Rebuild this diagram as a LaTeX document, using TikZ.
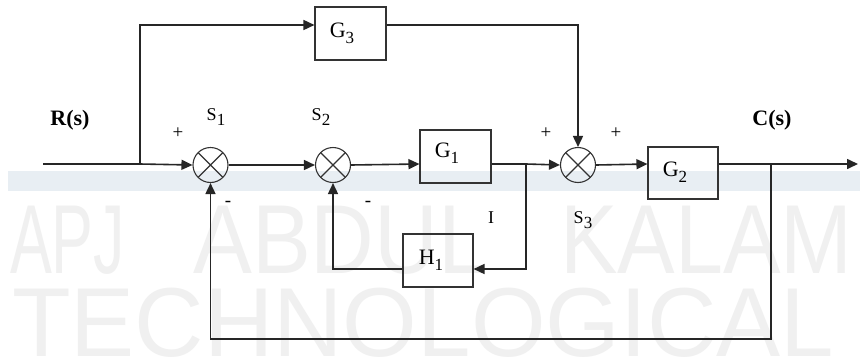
\documentclass[tikz,border=0pt]{standalone}
\usepackage{fontspec}
\setmainfont{Liberation Serif}
\newfontfamily\wmfont{Liberation Sans}
\usetikzlibrary{arrows.meta,calc}
\definecolor{wmgray}{RGB}{240,240,240}
\definecolor{bandblue}{RGB}{232,238,243}
\tikzset{
  x=1pt,y=1pt,
  line/.style={draw=black!85,line width=1.6pt},
  arr/.style={line,-{Triangle[length=11pt,width=10pt]}},
  blockbox/.style={draw=black!80,line width=1.1pt,minimum width=71pt,minimum height=53pt,inner sep=0pt},
  sumcirc/.style={circle,draw=black!80,line width=1.1pt,minimum size=35pt,inner sep=0pt,
    path picture={\draw[line width=1.1pt,black!80] (path picture bounding box.north west)--(path picture bounding box.south east)
      (path picture bounding box.north east)--(path picture bounding box.south west);}},
  lbl/.style={font=\fontsize{22}{22}\selectfont,inner sep=0pt},
  slbl/.style={font=\fontsize{18}{18}\selectfont,inner sep=0pt},
  sgn/.style={font=\fontsize{19}{19}\selectfont,inner sep=0pt},
  wm/.style={font=\wmfont\fontsize{98}{98}\selectfont,text=wmgray,inner sep=0pt,anchor=base west}
}
\newcommand{\sbs}[1]{\raisebox{-0.28em}{\fontsize{17}{17}\selectfont #1}}
\begin{document}
\begin{tikzpicture}
\useasboundingbox (0,0) rectangle (860,-362);
\fill[white] (0,0) rectangle (860,-362);
% watermark
\fill[bandblue] (8,-171) rectangle (860,-191);
\node[wm,xscale=0.64] (wm1) at (10,-273) {APJ};
\node[wm,xscale=0.9] (wm2) at (193,-273) {ABDUL};
\node[wm,xscale=0.88] (wm3) at (560,-273) {KALAM};
\node[wm,xscale=0.98] (wm4) at (12,-356) {TECHNOLOGICAL};
% blocks
\node[blockbox] (G3) at (350.5,-33.5) {};
\node[blockbox] (G1) at (455.5,-156.5) {};
\node[blockbox,minimum width=70pt,minimum height=52pt] (G2) at (683,-173) {};
\node[blockbox,minimum width=70pt] (H1) at (438,-260.5) {};
\node[lbl] (tG3) at (342,-33) {G\sbs{3}};
\node[lbl] (tG1) at (447,-153) {G\sbs{1}};
\node[lbl] (tG2) at (675,-172) {G\sbs{2}};
\node[lbl] (tH1) at (431,-260) {H\sbs{1}};
% summing junctions
\node[sumcirc] (S1) at (210.5,-165) {};
\node[sumcirc] (S2) at (333,-165) {};
\node[sumcirc] (S3) at (578,-165) {};
% coordinates
\coordinate (in) at (43,-164);
\coordinate (b0) at (140,-164);
\coordinate (t0) at (140,-25);
\coordinate (t1) at (578,-25);
\coordinate (b1) at (526,-164);
\coordinate (h1) at (526,-269);
\coordinate (h2) at (333,-269);
\coordinate (b2) at (771,-164);
\coordinate (f1) at (771,-339);
\coordinate (f2) at (210.5,-339);
\coordinate (out) at (858,-164);
% main path
\draw[line] (in) -- (b0);
\draw[arr] (b0) -- (S1.west);
\draw[arr] (S1.east) -- (S2.west);
\draw[arr] (S2.east) -- (G1.west |- b0);
\draw[line] (G1.east |- b0) -- (b1);
\draw[arr] (b1) -- (S3.west);
\draw[arr] (S3.east) -- (G2.west |- b0);
\draw[line] (G2.east |- b0) -- (b2);
\draw[arr] (b2) -- (out);
% feedforward G3
\draw[arr] (b0) -- (t0) -- (G3.west |- t0);
\draw[arr] (G3.east |- t0) -- (t1) -- (S3.north);
% inner feedback H1
\draw[arr] (b1) -- (h1) -- (H1.east |- h1);
\draw[arr] (H1.west |- h1) -- (h2) -- (S2.south);
% outer feedback
\draw[arr] (b2) -- (f1) -- (f2) -- (S1.south);
% labels
\node[font=\bfseries\fontsize{22}{22}\selectfont,inner sep=0pt] (Rs) at (70,-120) {R(s)};
\node[font=\bfseries\fontsize{22}{22}\selectfont,inner sep=0pt] (Cs) at (772,-120) {C(s)};
\node[slbl] (tS1) at (216,-117) {S\sbs{1}};
\node[slbl] (tS2) at (321,-117) {S\sbs{2}};
\node[slbl] (tS3) at (583,-220) {S\sbs{3}};
\node[slbl] (tI) at (491,-218) {I};
\node[sgn] (p1) at (178,-133) {+};
\node[sgn] (p2) at (546,-133) {+};
\node[sgn] (p3) at (616,-133) {+};
\node[sgn] (m1) at (228,-204) {-};
\node[sgn] (m2) at (368,-204) {-};
\end{tikzpicture}
\end{document}
